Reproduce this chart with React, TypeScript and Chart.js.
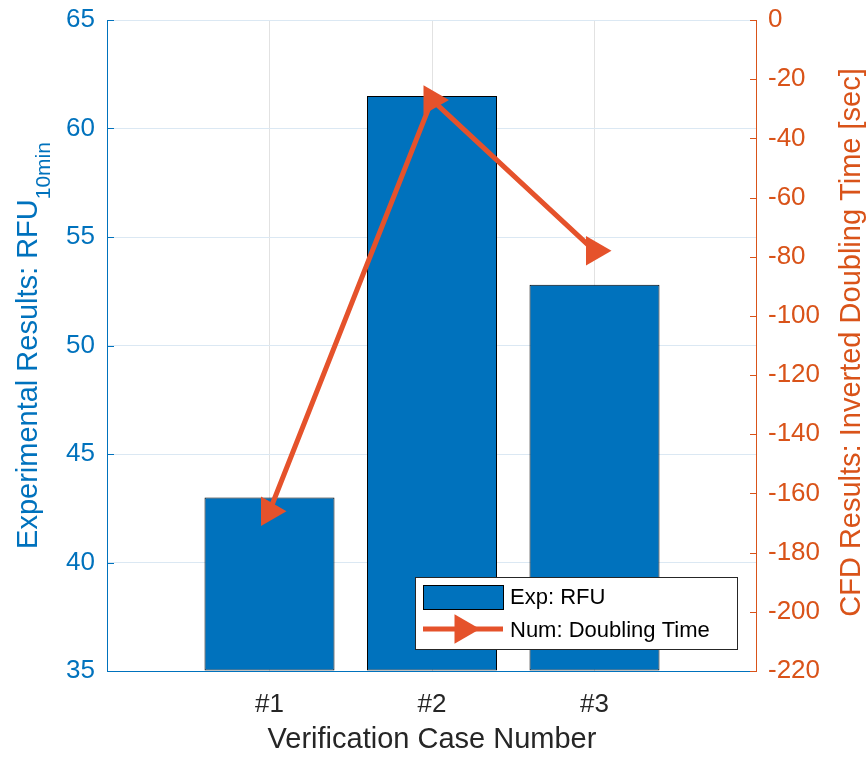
import { useEffect, useRef } from 'react';
import { Chart, registerables } from 'chart.js';

Chart.register(...registerables);

// ---- data ----
const categories = ['#1', '#2', '#3'];
const caseNumbers = [1, 2, 3];
const rfuValues = [43.0, 61.5, 52.8];
const doublingTime = [-166, -27, -78];
const leftTicks = [35, 40, 45, 50, 55, 60, 65];
const rightTicks = [0, -20, -40, -60, -80, -100, -120, -140, -160, -180, -200, -220];
const xRange = [0, 4];

const xTitle = 'Verification Case Number';
const leftTitleMain = 'Experimental Results: RFU';
const leftTitleSub = '10min';
const rightTitle = 'CFD Results: Inverted Doubling Time [sec]';
const legendLabels = ['Exp: RFU', 'Num: Doubling Time'];

// ---- styles ----
const FONT = '"Liberation Sans", Arial, Helvetica, sans-serif';
const TITLE_SIZE = 29;
const BLUE = '#0072BD';
const ORANGE = '#D95319';
const LINE = '#E5522B';
const DARK = '#262626';

const decorPlugin = {
  id: 'decor',
  beforeDatasetsDraw(chart: any) {
    const { ctx, chartArea: a } = chart;
    const yL = chart.scales.y;
    const yR = chart.scales.y2;
    ctx.save();
    ctx.lineWidth = 1;
    // bottom axis
    ctx.strokeStyle = BLUE;
    ctx.beginPath();
    ctx.moveTo(a.left, Math.round(a.bottom) + 0.5);
    ctx.lineTo(a.right, Math.round(a.bottom) + 0.5);
    ctx.stroke();
    // left axis + ticks
    ctx.strokeStyle = BLUE;
    ctx.beginPath();
    ctx.moveTo(Math.round(a.left) + 0.5, a.top);
    ctx.lineTo(Math.round(a.left) + 0.5, a.bottom + 1);
    leftTicks.forEach((v) => {
      const py = Math.round(yL.getPixelForValue(v)) + 0.5;
      ctx.moveTo(a.left, py);
      ctx.lineTo(a.left + 7, py);
    });
    ctx.stroke();
    // right axis + ticks
    ctx.strokeStyle = ORANGE;
    ctx.beginPath();
    ctx.moveTo(Math.round(a.right) - 0.5, a.top);
    ctx.lineTo(Math.round(a.right) - 0.5, a.bottom + 1);
    rightTicks.forEach((v) => {
      const py = Math.round(yR.getPixelForValue(v)) + 0.5;
      ctx.moveTo(a.right, py);
      ctx.lineTo(a.right - 7, py);
    });
    ctx.stroke();
    ctx.restore();
  },
  afterDraw(chart: any) {
    const { ctx, chartArea: a } = chart;
    const cy = (a.top + a.bottom) / 2;
    const cx = (a.left + a.right) / 2;
    ctx.save();
    // x title
    ctx.fillStyle = DARK;
    ctx.font = `${TITLE_SIZE}px ${FONT}`;
    ctx.textAlign = 'center';
    ctx.textBaseline = 'alphabetic';
    ctx.fillText(xTitle, cx, 748);

    // left title with subscript
    ctx.save();
    ctx.fillStyle = BLUE;
    ctx.font = `${TITLE_SIZE}px ${FONT}`;
    const wMain = ctx.measureText(leftTitleMain).width;
    ctx.font = `21px ${FONT}`;
    const wSub = ctx.measureText(leftTitleSub).width;
    const total = wMain + wSub;
    ctx.translate(37, cy);
    ctx.rotate(-Math.PI / 2);
    ctx.textAlign = 'left';
    ctx.font = `${TITLE_SIZE}px ${FONT}`;
    ctx.fillText(leftTitleMain, -total / 2, 0);
    ctx.font = `21px ${FONT}`;
    ctx.fillText(leftTitleSub, -total / 2 + wMain, 13);
    ctx.restore();

    // right title
    ctx.save();
    ctx.fillStyle = ORANGE;
    ctx.font = `${TITLE_SIZE}px ${FONT}`;
    ctx.translate(860, cy - 3);
    ctx.rotate(-Math.PI / 2);
    ctx.textAlign = 'center';
    ctx.fillText(rightTitle, 0, 0);
    ctx.restore();

    // legend
    const lx = 415, ly = 577, lw = 322, lh = 72;
    ctx.fillStyle = '#ffffff';
    ctx.fillRect(lx, ly, lw, lh);
    ctx.strokeStyle = DARK;
    ctx.lineWidth = 1;
    ctx.strokeRect(lx + 0.5, ly + 0.5, lw, lh);
    // bar patch
    ctx.fillStyle = BLUE;
    ctx.fillRect(423, 585, 80, 24);
    ctx.strokeStyle = '#000';
    ctx.strokeRect(423.5, 585.5, 80, 24);
    // line patch
    ctx.strokeStyle = LINE;
    ctx.lineWidth = 5;
    ctx.beginPath();
    ctx.moveTo(423, 629);
    ctx.lineTo(503, 629);
    ctx.stroke();
    const r = 17, tx = 463, ty = 629;
    ctx.fillStyle = LINE;
    ctx.beginPath();
    ctx.moveTo(tx + r, ty);
    ctx.lineTo(tx - r / 2, ty - (r * Math.sqrt(3)) / 2);
    ctx.lineTo(tx - r / 2, ty + (r * Math.sqrt(3)) / 2);
    ctx.closePath();
    ctx.fill();
    // legend text
    ctx.fillStyle = '#000';
    ctx.font = `22px ${FONT}`;
    ctx.textAlign = 'left';
    ctx.textBaseline = 'middle';
    ctx.fillText(legendLabels[0], 510, 598);
    ctx.fillText(legendLabels[1], 510, 631);
    ctx.restore();
  },
};

export default function App() {
  const ref = useRef<HTMLCanvasElement | null>(null);

  useEffect(() => {
    document.body.style.margin = '0';
    const canvas = ref.current;
    if (!canvas) return;
    const chart = new Chart(canvas, {
      type: 'bar',
      data: {
        datasets: [
          {
            type: 'line',
            label: legendLabels[1],
            data: caseNumbers.map((x, i) => ({ x, y: doublingTime[i] })),
            xAxisID: 'x',
            yAxisID: 'y2',
            borderColor: LINE,
            backgroundColor: LINE,
            borderWidth: 5,
            pointStyle: 'triangle',
            pointRotation: 90,
            pointRadius: 17,
            pointBorderWidth: 0,
            pointBackgroundColor: LINE,
            pointBorderColor: LINE,
            tension: 0,
            clip: false,
            order: 0,
          } as any,
          {
            type: 'bar',
            label: legendLabels[0],
            data: caseNumbers.map((x, i) => ({ x, y: rfuValues[i] })),
            xAxisID: 'x',
            yAxisID: 'y',
            backgroundColor: BLUE,
            borderColor: '#000000',
            borderWidth: 1,
            borderSkipped: false,
            base: leftTicks[0],
            barPercentage: 0.8,
            categoryPercentage: 1,
            order: 1,
          } as any,
        ],
      },
      options: {
        responsive: false,
        animation: false,
        devicePixelRatio: 1,
        layout: { padding: { top: 20, left: 0, right: 0, bottom: 0 } },
        plugins: { legend: { display: false }, tooltip: { enabled: false } },
        scales: {
          x: {
            type: 'linear',
            position: 'bottom',
            offset: false,
            min: xRange[0],
            max: xRange[1],
            afterBuildTicks: (s: any) => {
              s.ticks = caseNumbers.map((v) => ({ value: v }));
            },
            afterFit: (s: any) => {
              s.height = 90;
              s.paddingLeft = 0;
              s.paddingRight = 0;
            },
            ticks: {
              callback: (v: any) => categories[caseNumbers.indexOf(Number(v))] ?? '',
              color: DARK,
              font: { family: FONT, size: 26 },
              padding: 18,
              maxRotation: 0,
              autoSkip: false,
            },
            grid: { color: '#e2e2e2', drawTicks: false, offset: false },
            border: { display: false },
          },
          y: {
            type: 'linear',
            position: 'left',
            min: leftTicks[0],
            max: leftTicks[leftTicks.length - 1],
            afterFit: (s: any) => {
              s.width = 107;
              s.paddingTop = 0;
              s.paddingBottom = 0;
            },
            ticks: {
              stepSize: 5,
              color: BLUE,
              font: { family: FONT, size: 26 },
              padding: 12,
            },
            grid: { color: '#dbe8f3', drawTicks: false },
            border: { display: false },
          },
          y2: {
            type: 'linear',
            position: 'right',
            min: rightTicks[rightTicks.length - 1],
            max: rightTicks[0],
            afterFit: (s: any) => {
              s.width = 110;
              s.paddingTop = 0;
              s.paddingBottom = 0;
            },
            ticks: {
              stepSize: 20,
              color: ORANGE,
              font: { family: FONT, size: 26 },
              padding: 11,
            },
            grid: { display: false, drawTicks: false },
            border: { display: false },
          },
        },
      },
      plugins: [decorPlugin],
    });
    return () => chart.destroy();
  }, []);

  return (
    <div style={{ width: 867, height: 761, background: '#ffffff' }}>
      <canvas ref={ref} width={867} height={761} style={{ display: 'block', width: 867, height: 761 }} />
    </div>
  );
}
